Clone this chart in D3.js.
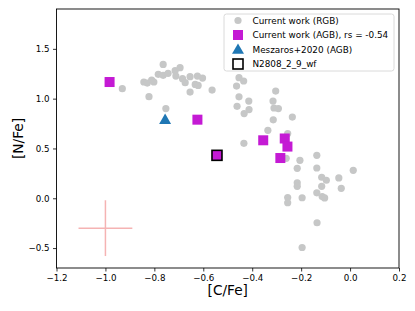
<!DOCTYPE html>
<html>
<head>
<meta charset="utf-8">
<script src="https://cdn.jsdelivr.net/npm/d3@7"></script>
<style>
	body { margin: 0; background: #fff; }
	text { font-family: "DejaVu Sans", sans-serif; fill: #000; }
</style>
</head>
<body>
<script>

// RGB stars (current work)
var rgbC = [-0.931, -0.843, -0.829, -0.811, -0.802, -0.822, -0.784, -0.764, -0.764, -0.744,
	-0.715, -0.712, -0.695, -0.685, -0.674, -0.654, -0.654, -0.633, -0.624, -0.621,
	-0.603, -0.564, -0.753, -0.454, -0.435, -0.464, -0.304, -0.454, -0.414, -0.462,
	-0.413, -0.433, -0.315, -0.311, -0.293, -0.236, -0.314, -0.336, -0.434, -0.255,
	-0.261, -0.205, -0.136, -0.216, -0.136, -0.116, -0.097, -0.046, 0.013, -0.216,
	-0.216, -0.116, -0.036, -0.136, -0.114, -0.104, -0.255, -0.255, -0.196, -0.135, -0.196];
var rgbN = [1.100, 1.167, 1.156, 1.187, 1.167, 1.020, 1.244, 1.344, 1.234, 1.254,
	1.281, 1.227, 1.311, 1.201, 1.160, 1.221, 1.066, 1.143, 1.227, 1.133,
	1.207, 1.086, 0.900, 1.211, 1.177, 1.126, 1.076, 1.018, 0.976, 0.923,
	0.890, 0.850, 0.976, 0.906, 0.900, 0.815, 0.787, 0.682, 0.552, 0.649,
	0.401, 0.381, 0.431, 0.301, 0.304, 0.211, 0.181, 0.204, 0.281, 0.155,
	0.120, 0.120, 0.100, 0.055, 0.017, 0.003, 0.007, -0.045, 0.005, -0.246, -0.494];

// AGB stars (current work)
var agbC = [-0.983, -0.624, -0.544, -0.355, -0.267, -0.256, -0.285];
var agbN = [1.167, 0.789, 0.431, 0.582, 0.600, 0.519, 0.404];

// Meszaros+2020
var meszC = [-0.756];
var meszN = [0.789];

// highlighted star
var starC = [-0.544];
var starN = [0.431];

// typical error
var errC = -1.0, errN = -0.3, errX = 0.11, errY = 0.28;

var legendLabels = ["Current work (RGB)", "Current work (AGB), rs = -0.54", "Meszaros+2020 (AGB)", "N2808_2_9_wf"];
var xTicks = [-1.2, -1.0, -0.8, -0.6, -0.4, -0.2, 0.0, 0.2];
var yTicks = [-0.5, 0.0, 0.5, 1.0, 1.5];

var W = 415, H = 311;
var margin = {top: 9, right: 16, bottom: 43, left: 56.5};

var svg = d3.select("body").append("svg")
	.attr("width", W)
	.attr("height", H);

var x = d3.scaleLinear().domain([-1.2, 0.2]).range([margin.left, W - margin.right]);
var y = d3.scaleLinear().domain([-0.7, 1.9]).range([H - margin.bottom, margin.top]);

var fmt = d3.format(".1f");

// axes
svg.append("g")
	.attr("transform", "translate(0," + y.range()[0] + ")")
	.call(d3.axisBottom(x).tickValues(xTicks).tickFormat(fmt).tickSize(3.5).tickPadding(3.5))
	.call(function(g) { g.select(".domain").remove(); })
	.selectAll("text")
		.style("font-size", "8.7px");

svg.append("g")
	.attr("transform", "translate(" + x.range()[0] + ",0)")
	.call(d3.axisLeft(y).tickValues(yTicks).tickFormat(fmt).tickSize(3.5).tickPadding(3.5))
	.call(function(g) { g.select(".domain").remove(); })
	.selectAll("text")
		.style("font-size", "8.7px");

svg.selectAll(".tick line").attr("stroke", "#000").attr("stroke-width", 0.8);

// error cross
svg.append("line")
	.attr("x1", x(errC - errX)).attr("x2", x(errC + errX))
	.attr("y1", y(errN)).attr("y2", y(errN))
	.attr("stroke", "#f5b3b3").attr("stroke-width", 1.5);
svg.append("line")
	.attr("x1", x(errC)).attr("x2", x(errC))
	.attr("y1", y(errN - errY)).attr("y2", y(errN + errY))
	.attr("stroke", "#f5b3b3").attr("stroke-width", 1.5);

var grey = "#c6c7c7", purple = "#c41ad4", blue = "#1f77b4";

// RGB points
svg.append("g").selectAll("circle")
	.data(d3.range(rgbC.length))
	.enter().append("circle")
	.attr("cx", function(i) { return x(rgbC[i]); })
	.attr("cy", function(i) { return y(rgbN[i]); })
	.attr("r", 3.6)
	.attr("fill", grey);

// AGB squares
var sq = 10;
svg.append("g").selectAll("rect")
	.data(d3.range(agbC.length))
	.enter().append("rect")
	.attr("x", function(i) { return x(agbC[i]) - sq / 2; })
	.attr("y", function(i) { return y(agbN[i]) - sq / 2; })
	.attr("width", sq)
	.attr("height", sq)
	.attr("fill", purple);

// Meszaros triangle
var tri = d3.symbol().type(d3.symbolTriangle).size(62);
svg.append("g").selectAll("path")
	.data(d3.range(meszC.length))
	.enter().append("path")
	.attr("d", tri)
	.attr("transform", function(i) { return "translate(" + x(meszC[i]) + "," + (y(meszN[i]) + 0.8) + ")"; })
	.attr("fill", blue);

// highlighted star
svg.append("g").selectAll("rect")
	.data(d3.range(starC.length))
	.enter().append("rect")
	.attr("x", function(i) { return x(starC[i]) - 5; })
	.attr("y", function(i) { return y(starN[i]) - 5; })
	.attr("width", 10)
	.attr("height", 10)
	.attr("fill", "none")
	.attr("stroke", "#000")
	.attr("stroke-width", 1.6);

// frame
svg.append("rect")
	.attr("x", x.range()[0])
	.attr("y", y.range()[1])
	.attr("width", x.range()[1] - x.range()[0])
	.attr("height", y.range()[0] - y.range()[1])
	.attr("fill", "none")
	.attr("stroke", "#000")
	.attr("stroke-width", 0.9);

// legend
var legend = svg.append("g").attr("transform", "translate(224,14)");
legend.append("rect")
	.attr("width", 170)
	.attr("height", 57)
	.attr("rx", 2.5)
	.attr("fill", "#fff")
	.attr("fill-opacity", 0.8)
	.attr("stroke", "#d0d0d0")
	.attr("stroke-width", 0.8);

var rowY = [6.5, 21, 35.5, 50];
legend.append("circle").attr("cx", 14).attr("cy", rowY[0]).attr("r", 3.6).attr("fill", grey);
legend.append("rect").attr("x", 9).attr("y", rowY[1] - 5).attr("width", 10).attr("height", 10).attr("fill", purple);
legend.append("path").attr("d", tri).attr("transform", "translate(14," + (rowY[2] + 0.8) + ")").attr("fill", blue);
legend.append("rect").attr("x", 9).attr("y", rowY[3] - 5).attr("width", 10).attr("height", 10)
	.attr("fill", "none").attr("stroke", "#000").attr("stroke-width", 1.6);

legend.selectAll("text.lab")
	.data(legendLabels)
	.enter().append("text")
	.attr("class", "lab")
	.attr("x", 28.5)
	.attr("y", function(d, i) { return rowY[i]; })
	.attr("dy", "0.35em")
	.style("font-size", "8.85px")
	.text(function(d) { return d; });

// axis labels
svg.append("text")
	.attr("x", (x.range()[0] + x.range()[1]) / 2)
	.attr("y", 295)
	.attr("text-anchor", "middle")
	.style("font-size", "13.7px")
	.text("[C/Fe]");

svg.append("text")
	.attr("transform", "translate(23," + ((y.range()[0] + y.range()[1]) / 2) + ") rotate(-90)")
	.attr("text-anchor", "middle")
	.style("font-size", "13.7px")
	.text("[N/Fe]");

</script>
</body>
</html>
